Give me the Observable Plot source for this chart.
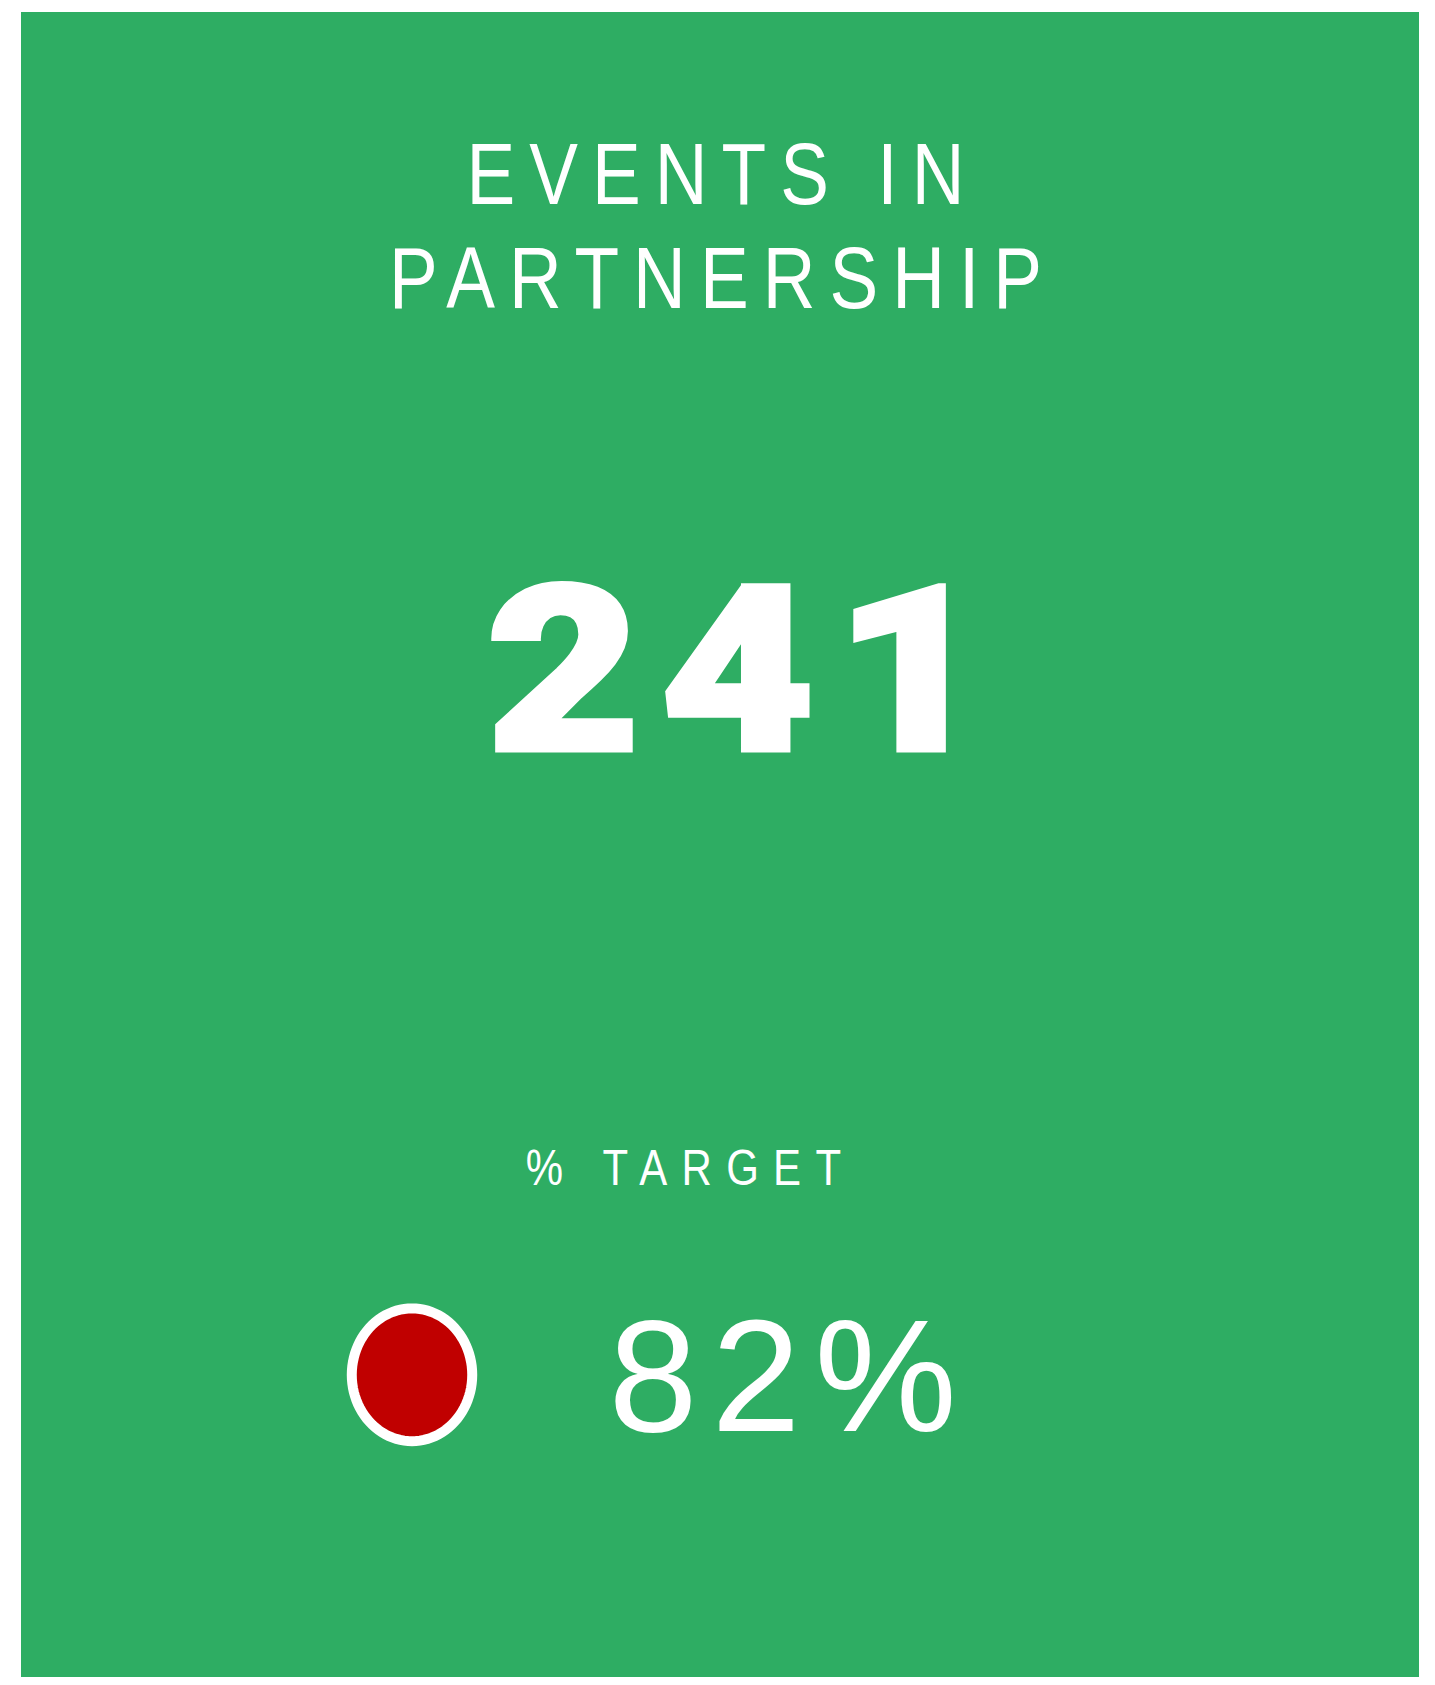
<!DOCTYPE html>
<html><head><meta charset="utf-8">
<script src="https://cdn.jsdelivr.net/npm/d3@7"></script>
<script src="https://cdn.jsdelivr.net/npm/@observablehq/plot@0.6"></script>
<style>
html,body{margin:0;padding:0;background:#fff;}
#card{position:absolute;left:21px;top:12px;line-height:0;}
</style></head><body><div id="card"></div>
<script>
// ---- data ----
const titleLines = ["EVENTS IN", "PARTNERSHIP"];
const kpiValue = [241];
const targetLabel = ["% TARGET"];
const targetPct = [82];
const targetStatus = ["below target"];
const statusDomain = ["below target", "on target"];

// ---- layout / style ----
const W = 1398, H = 1665;
const GREEN = "#2EAD63", RED = "#C00000";
const sans = "'Liberation Sans', Arial, Helvetica, sans-serif";
const black = "Roboto, 'Liberation Sans', Arial, sans-serif";

// custom ellipse symbol (size = r^2 * pi)
const ellipseSymbol = {
  draw(ctx, size) {
    const ry = Math.sqrt(size / Math.PI), rx = ry * 0.907, n = 96;
    for (let i = 0; i <= n; i++) {
      const a = (i / n) * 2 * Math.PI;
      const px = rx * Math.cos(a), py = ry * Math.sin(a);
      if (i === 0) ctx.moveTo(px, py); else ctx.lineTo(px, py);
    }
    ctx.closePath();
  }
};

const plot = Plot.plot({
  width: W, height: H, margin: 0,
  style: {background: GREEN, overflow: "visible"},
  x: {axis: null}, y: {axis: null},
  color: {type: "ordinal", domain: statusDomain, range: [RED, GREEN]},
  marks: [
    Plot.text([titleLines.join("\n")], {
      text: d => d, frameAnchor: "top", dx: 2, dy: 295,
      lineAnchor: "bottom", lineHeight: 1.185,
      fontSize: 87, fontFamily: sans, fill: "white"
    }),
    Plot.text(kpiValue, {
      text: d => String(d), frameAnchor: "top", textAnchor: "middle", dx: 27, dy: 737.5,
      lineAnchor: "bottom", fontSize: 231, fontWeight: 900,
      fontFamily: black, fill: "white", stroke: "white", strokeWidth: 5, strokeLinejoin: "miter"
    }),
    Plot.text(targetLabel, {
      text: d => d, frameAnchor: "top", dx: -30, dy: 1172,
      lineAnchor: "bottom", fontSize: 50, fontFamily: sans, fill: "white"
    }),
    Plot.dot(targetStatus, {
      frameAnchor: "top-left", dx: 390.5, dy: 1362.3,
      r: 66.4, symbol: ellipseSymbol,
      fill: d => d, stroke: "white", strokeWidth: 10
    }),
    Plot.text(targetPct, {
      text: d => d + "%", frameAnchor: "top-left", textAnchor: "start", dx: 587, dy: 1418,
      lineAnchor: "bottom", fontSize: 160, fontFamily: sans, fill: "white"
    })
  ]
});

// per-text styling: letter spacing and horizontal stretch
const groups = plot.querySelectorAll('g[aria-label="text"]');
const spacing = [16.7, 17.5, 17, 14];
const stretchX = [0.84, 1.15, 0.84, 1];
groups.forEach((g, i) => g.querySelectorAll("text").forEach(t => {
  t.setAttribute("letter-spacing", spacing[i] + "px");
  if (stretchX[i] !== 1) {
    let tr = t.getAttribute("transform") || "";
    const x = +(t.getAttribute("x") || 0), y = +(t.getAttribute("y") || 0);
    if (t.hasAttribute("x") || t.hasAttribute("y")) {
      t.removeAttribute("x"); t.removeAttribute("y");
      tr += ` translate(${x},${y})`;
    }
    t.setAttribute("transform", `${tr} scale(${stretchX[i]},1)`);
  }
}));

document.getElementById("card").appendChild(plot);
</script></body></html>
